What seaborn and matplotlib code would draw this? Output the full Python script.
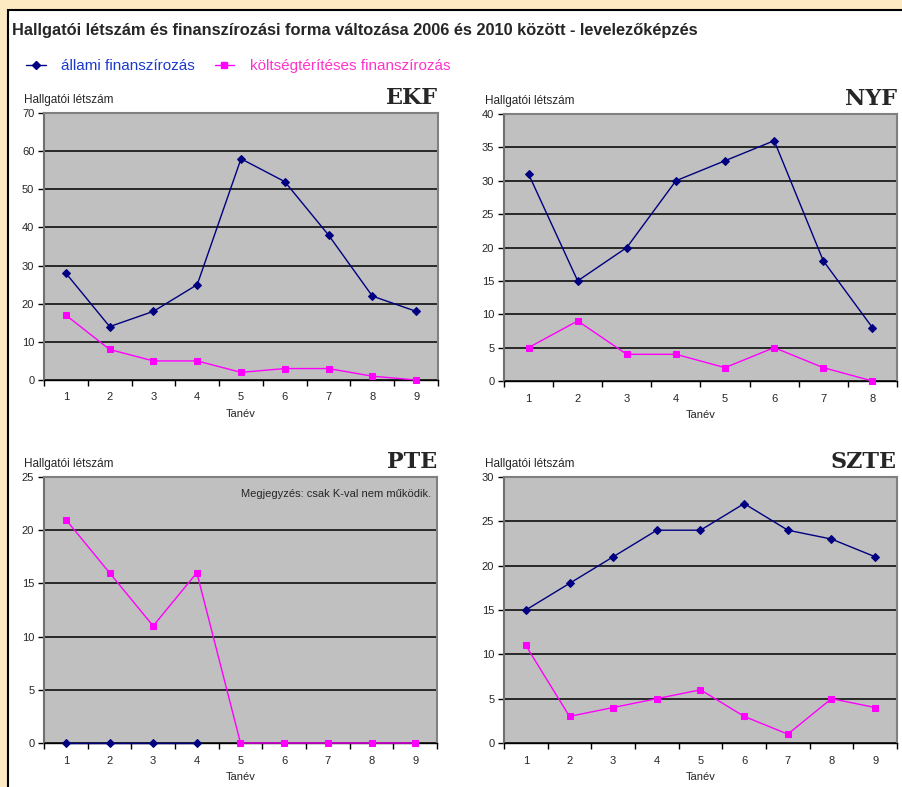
import numpy as np
import matplotlib
matplotlib.use("Agg")
import matplotlib.pyplot as plt
import seaborn as sns
from matplotlib.patches import Rectangle
from matplotlib.lines import Line2D
from matplotlib.ticker import MultipleLocator

# data (Tanév index -> student count)
ekf_allami = [28, 14, 18, 25, 58, 52, 38, 22, 18]
ekf_koltseg = [17, 8, 5, 5, 2, 3, 3, 1, 0]
nyf_allami = [31, 15, 20, 30, 33, 36, 18, 8]
nyf_koltseg = [5, 9, 4, 4, 2, 5, 2, 0]
pte_allami = [0, 0, 0, 0, None, None, None, None, None]
pte_koltseg = [21, 16, 11, 16, 0, 0, 0, 0, 0]
szte_allami = [15, 18, 21, 24, 24, 27, 24, 23, 21]
szte_koltseg = [11, 3, 4, 5, 6, 3, 1, 5, 4]

title = "Hallgatói létszám és finanszírozási forma változása 2006 és 2010 között - levelezőképzés"
label_allami = "állami finanszírozás"
label_koltseg = "költségtérítéses finanszírozás"

NAVY = "#000080"
MAGENTA = "#ff00ff"

sns.set_style("white")
plt.rcParams["font.family"] = ["Liberation Sans", "DejaVu Sans"]

W, H = 903, 787
fig = plt.figure(figsize=(W / 100, H / 100), dpi=100)
fig.patch.set_facecolor("#fdeac3")

# white slide panel, kept behind the axes
fig.patches.append(Rectangle((8 / W, -0.01), 1, 1.01 - 10 / H, transform=fig.transFigure,
                             facecolor="white", edgecolor="black", linewidth=1.5, zorder=-10))


def px_axes(l, t, r, b):
    return fig.add_axes([l / W, 1 - b / H, (r - l) / W, (b - t) / H])


def draw_panel(box, name, allami, koltseg, ymax, ystep, ylab_x):
    l, t, r, b = box
    ax = px_axes(l, t, r, b)
    ax.set_facecolor("#c0c0c0")
    n = len(koltseg)
    xs = np.arange(1, n + 1)

    a_x = [x for x, v in zip(xs, allami) if v is not None]
    a_y = [v for v in allami if v is not None]
    sns.lineplot(x=a_x, y=a_y, ax=ax, color=NAVY, marker="D", markersize=4,
                 markeredgecolor=NAVY, linewidth=1, sort=False, zorder=3, clip_on=False)
    sns.lineplot(x=xs, y=koltseg, ax=ax, color=MAGENTA, marker="s", markersize=4.5,
                 markeredgecolor=MAGENTA, linewidth=1, sort=False, zorder=3, clip_on=False)

    ax.set_xlim(0.5, n + 0.5)
    ax.set_ylim(0, ymax)
    ax.yaxis.set_major_locator(MultipleLocator(ystep))
    ax.set_xticks(xs)
    ax.set_xticklabels([str(x) for x in xs])
    ax.set_xticks(np.arange(0.5, n + 1), minor=True)
    ax.tick_params(axis="x", which="major", length=0, pad=9, labelsize=8)
    ax.tick_params(axis="x", which="minor", length=4, width=1, color="black",
                   direction="out", bottom=True)
    ax.tick_params(axis="y", which="major", length=4, width=1, color="black",
                   direction="out", labelsize=8, pad=3, left=True)
    ax.grid(axis="y", color="black", linewidth=1.1)
    ax.set_axisbelow(True)
    for side in ["top", "right"]:
        ax.spines[side].set_color("#808080")
        ax.spines[side].set_linewidth(1.5)
    ax.spines["left"].set_color("#707070")
    ax.spines["left"].set_linewidth(1.5)
    ax.spines["bottom"].set_color("black")
    ax.spines["bottom"].set_linewidth(1)
    ax.set_xlabel("Tanév", fontsize=8, labelpad=5)
    ax.set_ylabel("")

    fig.text(ylab_x / W, 1 - (t - 10) / H, "Hallgatói létszám", fontsize=8.5,
             ha="left", va="baseline")
    fig.text(r / W, 1 - (t - 9) / H, name, fontsize=16, fontweight="bold",
             family="DejaVu Serif", ha="right", va="baseline")
    return ax


draw_panel((44, 113, 438, 380), "EKF", ekf_allami, ekf_koltseg, 70, 10, 24)
draw_panel((504, 114, 897, 381), "NYF", nyf_allami, nyf_koltseg, 40, 5, 485)
ax_pte = draw_panel((44, 477, 437, 743), "PTE", pte_allami, pte_koltseg, 25, 5, 24)
draw_panel((504, 477, 897, 743), "SZTE", szte_allami, szte_koltseg, 30, 5, 485)

ax_pte.text(0.985, 0.955, "Megjegyzés: csak K-val nem működik.", transform=ax_pte.transAxes,
            fontsize=8, ha="right", va="top")

fig.text(12 / W, 1 - 35 / H, title, fontsize=11.8, fontweight="bold", ha="left", va="baseline")

handles = [
    Line2D([], [], color=NAVY, marker="D", markersize=4, linewidth=1),
    Line2D([], [], color=MAGENTA, marker="s", markersize=4.5, linewidth=1),
]
fig.legend(handles, [label_allami, label_koltseg], loc="center left",
           bbox_to_anchor=(12 / W, 1 - 66 / H), ncol=2, frameon=False,
           fontsize=11, handlelength=1.3, handletextpad=1.0, columnspacing=1.3,
           labelcolor=["#1a3acc", "#ff33cc"])

fig.savefig("out.png", dpi=100, facecolor=fig.get_facecolor())
